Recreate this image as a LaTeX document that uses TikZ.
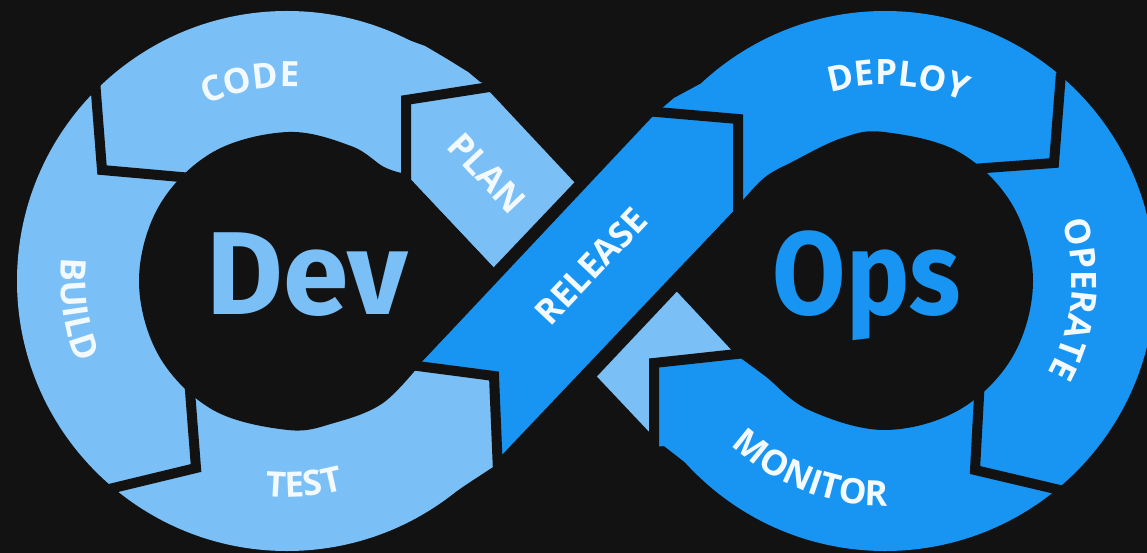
\documentclass[tikz,border=0pt]{standalone}
\usepackage{fontspec}
\setmainfont{Fira Sans}
\newfontfamily\lblfam{Open Sans}
\usetikzlibrary{decorations.text}
\definecolor{bg}{HTML}{121212}
\definecolor{lightb}{RGB}{122,191,245}
\definecolor{darkb}{RGB}{24,148,242}
\definecolor{lbltxt}{HTML}{F2F9FF}
\newcommand\lblfont{\lblfam\fontsize{35}{35}\selectfont\bfseries}
\newcommand\bigfont{\fontsize{118}{118}\selectfont\bfseries}
\begin{document}
\begin{tikzpicture}[x=1pt,y=-1pt,
  gapline/.style={draw=bg,line width=10pt,line join=miter,line cap=butt},
  arclbl/.style={decorate,decoration={text along path,text align=center,text color=lbltxt,text={|\lblfont|#1}}},
  lbl/.style={text=lbltxt,font=\lblfont,inner sep=0pt},
  big/.style={font=\bigfont,inner sep=0pt,anchor=base}]
\useasboundingbox (0,0) rectangle (1147,553);
\fill[bg] (0,0) rectangle (1147,553);
% outer discs
\fill[lightb] (287,281) circle[radius=270];
\fill[darkb] (885,281) circle[radius=270];
% fillers at joints where the rim bulges
\fill[lightb] (494,376) -- (499,463) -- (470,482) -- (430,509) -- (420,450) -- cycle;
\fill[lightb] (406,100) -- (490,86) -- (480,82) -- (468,72) -- (447,59) -- (425,46) -- (400,37) -- (400,80) -- cycle;
\fill[darkb] (738,119) -- (660,110) -- (674,98) -- (700,84) -- cycle;
\fill[darkb] (654,363) -- (654,447) -- (664,446) -- (700,474) -- (720,420) -- cycle;
% holes
\fill[bg] (503,277) -- (422,362) -- plot[smooth,tension=0.6] coordinates {(422,362) (383,403) (334,423) (288,430) (213,410) (159,356) (139,281) (159,206) (213,152) (288,132) (351,146) (384,167) (406,174)} -- cycle;
\fill[bg] (667,281) -- (735,354) -- plot[smooth,tension=0.6] coordinates {(735,354) (765,376) (809,410) (884,430) (959,410) (1013,356) (1033,281) (1013,206) (959,152) (884,132) (842,138) (792,162) (764,178) (738,206)} -- cycle;
% under strand (PLAN ... back to MONITOR)
\fill[lightb] (406,100) -- (486,88) -- (735,354) -- (654,363) -- (654,437) -- (406,174) -- cycle;
% black band separating the under strand from RELEASE
\fill[bg] (476,286) -- (590,166) -- (698,269) -- (585,389) -- cycle;
% RELEASE strand
\fill[darkb] (422,362) -- (494,376) -- (497,460) -- (738,206) -- (738,119) -- (657,112) -- cycle;
% joints
\draw[gapline] (95,80) -- (102,170) -- (192,178);
\draw[gapline] (189,378) -- (196,468) -- (105,490);
\draw[gapline] (410,365) -- (494,376) -- (498,472);
\draw[gapline] (645,111) -- (738,119) -- (738,216);
\draw[gapline] (1061,73) -- (1054,163) -- (972,169);
\draw[gapline] (980,378) -- (975,470) -- (1064,491);
\draw[gapline] (746,353) -- (654,363) -- (654,452);
\draw[gapline] (496,86) -- (406,100) -- (406,184);
% texts
\node[big,text=lightb] (dev) at (307,314) {Dev};
\node[big,text=darkb,xscale=0.9] (ops) at (867,314) {Ops};
\node[lbl,rotate=-46.7] (plan) at (487,173) {PLAN};
\node[lbl,rotate=46.7] (release) at (591,266) {RELEASE};
\path[arclbl=CODE] (287,281) ++(239.5:194) arc[start angle=239.5,end angle=279.5,radius=194];
\path[arclbl=BUILD] (287,281) ++(212.3:226) arc[start angle=212.3,end angle=132.3,radius=226];
\path[arclbl=TEST] (287,281) ++(125.3:216) arc[start angle=125.3,end angle=45.3,radius=216];
\path[arclbl=DEPLOY] (885,281) ++(253.8:196) arc[start angle=253.8,end angle=293.8,radius=196];
\path[arclbl=OPERATE] (885,281) ++(-34.65:187) arc[start angle=-34.65,end angle=45.35,radius=187];
\path[arclbl=MONITOR] (885,281) ++(161.2:225) arc[start angle=161.2,end angle=61.2,radius=225];
\end{tikzpicture}
\end{document}
